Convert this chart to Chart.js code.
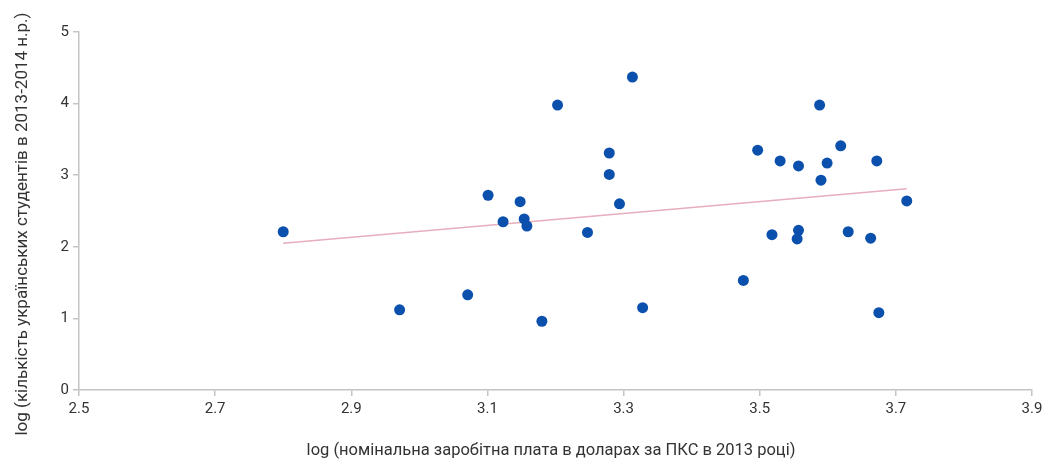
<!DOCTYPE html>
<html>
<head>
<meta charset="utf-8">
<script src="https://cdn.jsdelivr.net/npm/chart.js@4/dist/chart.umd.min.js"></script>
<style>
  html, body { margin: 0; padding: 0; background: #ffffff; }
  #wrap { width: 1050px; height: 463px; }
</style>
</head>
<body>
<div id="wrap"><canvas id="c" width="1050" height="463"></canvas></div>
<script>
// log of nominal wage (PPP dollars, 2013) per country
const wageLog = [2.800, 2.971, 3.071, 3.101, 3.123, 3.148, 3.154, 3.158, 3.180, 3.203,
                 3.247, 3.279, 3.279, 3.294, 3.313, 3.328, 3.476, 3.497, 3.518, 3.530,
                 3.557, 3.557, 3.555, 3.588, 3.590, 3.599, 3.619, 3.630, 3.663, 3.672,
                 3.675, 3.716];
// log of Ukrainian students count, 2013-2014 academic year
const studentsLog = [2.21, 1.12, 1.33, 2.72, 2.35, 2.63, 2.39, 2.29, 0.96, 3.98,
                     2.20, 3.31, 3.01, 2.60, 4.37, 1.15, 1.53, 3.35, 2.17, 3.20,
                     3.13, 2.23, 2.11, 3.98, 2.93, 3.17, 3.41, 2.21, 2.12, 3.20,
                     1.08, 2.64];
// linear trend endpoints
const trendX = [2.800, 3.716];
const trendY = [2.05, 2.81];
// axis ticks
const xTicks = [2.5, 2.7, 2.9, 3.1, 3.3, 3.5, 3.7, 3.9];
const yTicks = [0, 1, 2, 3, 4, 5];

const xTitle = 'log (номінальна заробітна плата в доларах за ПКС в 2013 році)';
const yTitle = 'log (кількість українських студентів в 2013-2014 н.р.)';

const points = wageLog.map((x, i) => ({ x: x, y: studentsLog[i] }));
const trend = trendX.map((x, i) => ({ x: x, y: trendY[i] }));

const axisColor = '#c4c4c4';
const textColor = '#333333';

// axis titles, placed in the margins around the plot area
const axisTitles = {
  id: 'axisTitles',
  afterDraw(chart) {
    const ctx = chart.ctx;
    ctx.save();
    ctx.fillStyle = textColor;
    ctx.textAlign = 'center';
    ctx.textBaseline = 'alphabetic';
    ctx.font = '16.5px Roboto';
    ctx.fillText(xTitle, 551, 455);
    ctx.font = '17px Roboto';
    ctx.translate(27, 224);
    ctx.rotate(-Math.PI / 2);
    ctx.fillText(yTitle, 0, 0);
    ctx.restore();
  }
};

new Chart(document.getElementById('c'), {
  type: 'scatter',
  data: {
    datasets: [
      {
        type: 'line',
        data: trend,
        borderColor: '#e8aebd',
        borderWidth: 1.5,
        pointRadius: 0,
        fill: false,
        order: 2
      },
      {
        data: points,
        backgroundColor: '#0b50ad',
        borderWidth: 0,
        pointRadius: 5.5,
        order: 1
      }
    ]
  },
  plugins: [axisTitles],
  options: {
    responsive: false,
    animation: false,
    devicePixelRatio: 1,
    layout: { padding: { left: 0, right: 18, top: 32, bottom: 0 } },
    plugins: { legend: { display: false }, tooltip: { enabled: false } },
    scales: {
      x: {
        type: 'linear',
        min: 2.5,
        max: 3.9,
        afterBuildTicks: (s) => { s.ticks = xTicks.map(v => ({ value: v })); },
        afterFit: (s) => { s.height = 73; },
        border: { display: true, color: axisColor, width: 1.5 },
        grid: { display: true, drawOnChartArea: false, drawTicks: true, tickLength: 6, color: axisColor, lineWidth: 1.5 },
        ticks: {
          color: textColor,
          font: { family: 'Roboto', size: 15 },
          padding: 4,
          maxRotation: 0,
          callback: (v) => v.toFixed(1)
        }
      },
      y: {
        type: 'linear',
        min: 0,
        max: 5,
        afterBuildTicks: (s) => { s.ticks = yTicks.map(v => ({ value: v })); },
        afterFit: (s) => { s.width = 79; },
        border: { display: true, color: axisColor, width: 1.5 },
        grid: { display: true, drawOnChartArea: false, drawTicks: true, tickLength: 6, color: axisColor, lineWidth: 1.5 },
        ticks: {
          color: textColor,
          font: { family: 'Roboto', size: 15 },
          padding: 4
        }
      }
    }
  }
});
</script>
</body>
</html>
